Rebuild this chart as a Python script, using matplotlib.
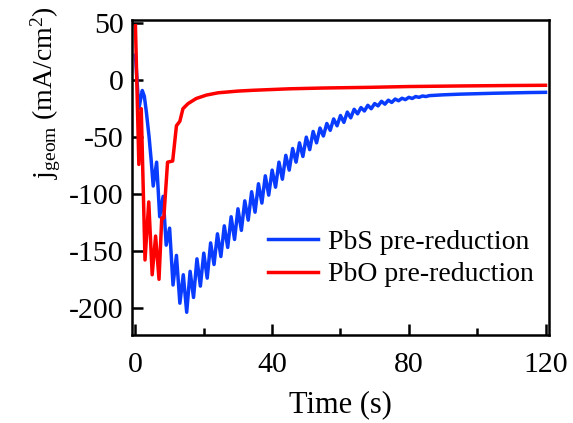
import matplotlib
matplotlib.use("Agg")
import matplotlib.pyplot as plt
from matplotlib.ticker import MultipleLocator

plt.rcParams["font.family"] = ["Liberation Serif", "DejaVu Serif"]
plt.rcParams["mathtext.fontset"] = "custom"
plt.rcParams["mathtext.rm"] = "Liberation Serif"
plt.rcParams["mathtext.it"] = "Liberation Serif:italic"
plt.rcParams["axes.unicode_minus"] = False

# PbS pre-reduction (blue): early transient, then teeth ~2 s apart
t_pbs = [0, 1.0, 2.0, 2.6, 3.2, 4.0, 4.6, 5.2, 6.2, 7.1, 8.1, 9.0, 10.0,
         11, 12, 13, 14, 15, 16, 17, 18, 19, 20, 21, 22, 23, 24, 25, 26,
         27, 28, 29, 30, 31, 32, 33, 34, 35, 36, 37, 38, 39, 40, 41, 42,
         43, 44, 45, 46, 47, 48, 49, 50, 51, 52, 53, 54, 55, 56, 57, 58,
         59, 60, 61, 62, 63, 64, 65, 66, 67, 68, 69, 70, 71, 72, 73, 74,
         75, 76, 77, 78, 79, 80, 81, 82, 83, 84, 85, 86,
         90, 95, 100, 105, 110, 115, 120]
j_pbs = [22, -25, -9, -14, -28, -50, -70, -93, -72, -120, -102, -145, -130,
         -180, -154, -196, -171, -204, -168, -191, -157, -181, -152, -174, -143, -162, -135, -155, -128,
         -147, -120, -140, -113, -132, -106, -123, -98, -116, -91, -108, -84, -101, -79, -94, -72,
         -87, -66, -79, -60, -72, -55, -67, -50, -61, -45, -55, -42, -49, -38, -44, -34,
         -40, -31, -37, -28, -33, -25.5, -29.5, -24, -27, -22, -25, -20.5, -22.5, -18.5, -21, -17.5,
         -19.5, -16.5, -18, -15.8, -17, -15, -16, -14.3, -15, -13.8, -14.3, -13.5,
         -12.8, -12.2, -11.8, -11.4, -11.1, -10.8, -10.6]

# PbO pre-reduction (red)
t_pbo = [0, 1.0, 1.7, 2.8, 3.9, 4.9, 5.9, 6.9, 7.7, 8.3, 9.4, 10.9, 12.0,
         13.0, 13.9, 15.4, 17.8, 20.8, 24.2, 30, 34.4, 45, 55, 68.6, 80,
         95, 110, 120]
j_pbo = [48, -74, -25, -158, -107, -171, -137, -175, -121, -121, -72, -71, -40,
         -36, -25, -20.5, -16, -13, -11, -9.5, -8.8, -7.5, -6.8, -6.2, -5.5,
         -5.0, -4.6, -4.4]

labels = ["PbS pre-reduction", "PbO pre-reduction"]
colors = ["#0A3CFF", "#FF0000"]

fig = plt.figure(figsize=(5.73, 4.23), dpi=100)
ax = fig.add_axes([0.2304, 0.208, 0.7276, 0.7447])

ax.plot(t_pbs, j_pbs, color=colors[0], lw=2.5, label=labels[0])
ax.plot(t_pbo, j_pbo, color=colors[1], lw=2.5, label=labels[1])

ax.set_xlim(-1, 121)
ax.set_ylim(-224, 53)
ax.xaxis.set_major_locator(MultipleLocator(40))
ax.xaxis.set_minor_locator(MultipleLocator(20))
ax.yaxis.set_major_locator(MultipleLocator(50))

for s in ax.spines.values():
    s.set_linewidth(1.8)
ax.tick_params(axis="both", which="major", direction="in", length=8, width=1.8,
               labelsize=21.5)
ax.tick_params(axis="x", which="major", pad=12)
ax.tick_params(axis="y", which="major", pad=6)
ax.tick_params(axis="x", which="minor", direction="in", length=5, width=1.8)

ax.set_xlabel("Time (s)", fontsize=22, labelpad=9)
ax.set_ylabel(r"j$_{\mathrm{geom}}$ (mA/cm$^{2}$)", fontsize=20)
ax.yaxis.set_label_coords(-0.165, 0.77)

ax.legend(loc="upper left", bbox_to_anchor=(0.326, 0.335), frameon=False,
          fontsize=20, handlelength=1.8, handletextpad=0.35,
          labelspacing=0.25, borderpad=0, borderaxespad=0)

fig.savefig("out.png", dpi=100, facecolor="white")
